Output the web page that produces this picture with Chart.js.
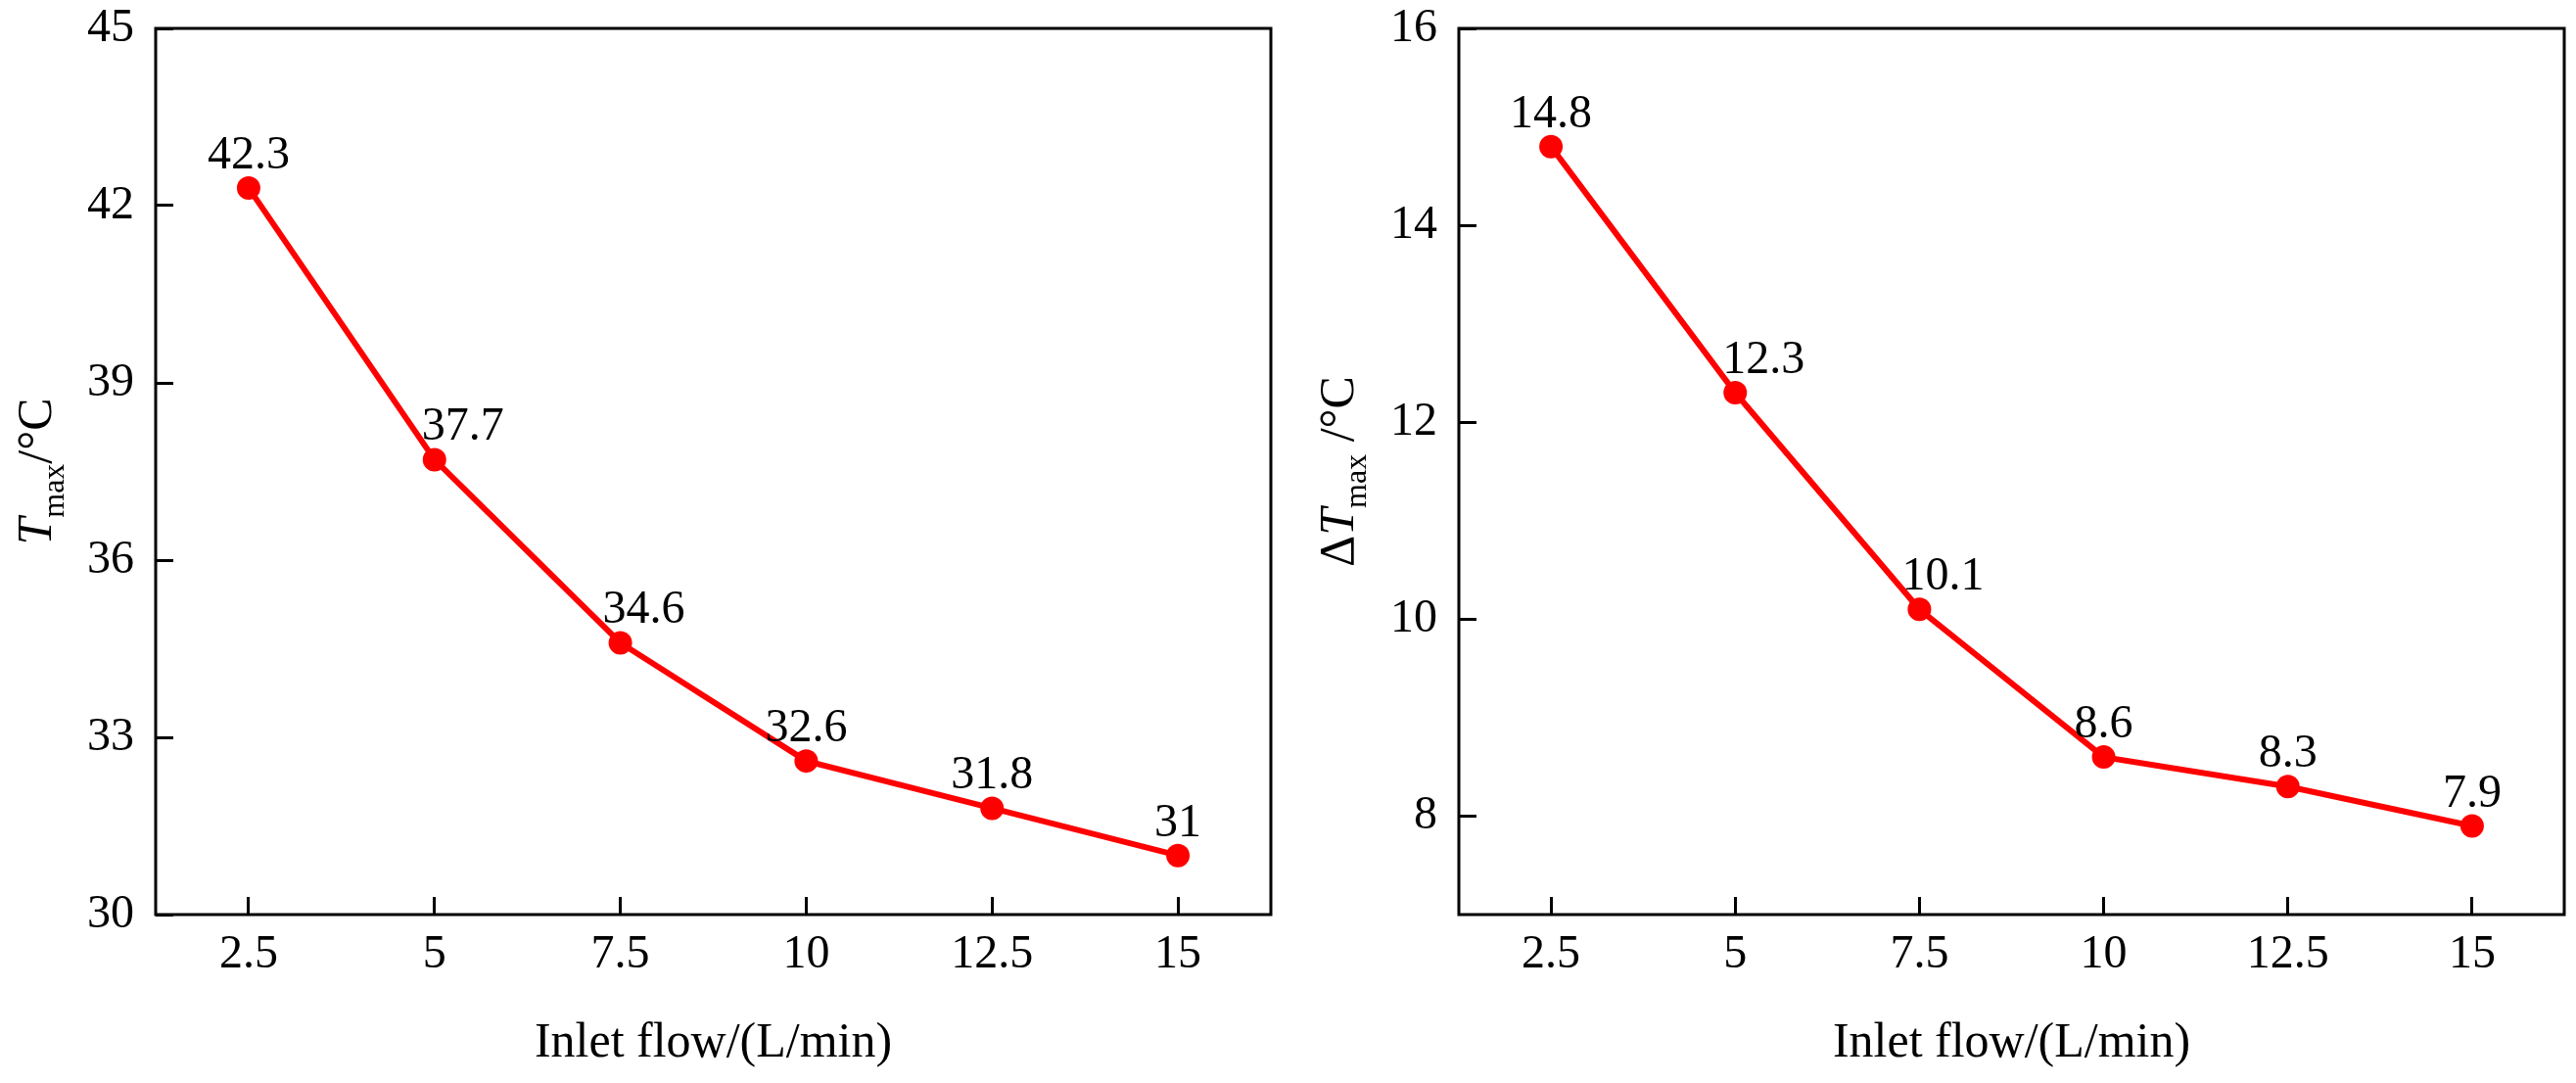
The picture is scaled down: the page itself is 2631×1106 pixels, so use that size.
<!DOCTYPE html>
<html>
<head>
<meta charset="utf-8">
<script src="https://cdn.jsdelivr.net/npm/chart.js@4.4.1/dist/chart.umd.min.js"></script>
<style>
  html, body { margin: 0; padding: 0; background: #fff; }
  #wrap { position: relative; width: 2631px; height: 1106px; }
  canvas { position: absolute; top: 0; }
  #left { left: 0; }
  #right { left: 1315px; }
</style>
</head>
<body>
<div id="wrap">
  <canvas id="left" width="1315" height="1106"></canvas>
  <canvas id="right" width="1316" height="1106"></canvas>
</div>
<script>
// valori
const flow = [2.5, 5, 7.5, 10, 12.5, 15];
const tMax = [42.3, 37.7, 34.6, 32.6, 31.8, 31];
const dtMax = [14.8, 12.3, 10.1, 8.6, 8.3, 7.9];

const xTicks = [2.5, 5, 7.5, 10, 12.5, 15];
const yTicksLeft = [30, 33, 36, 39, 42, 45];
const yTicksRight = [8, 10, 12, 14, 16];
const xTitle = "Inlet flow/(L/min)";

const FONT = "'Liberation Serif', 'Times New Roman', serif";
Chart.defaults.font.family = FONT;
Chart.defaults.color = "#000";

// cornice nera attorno all'area del grafico
const framePlugin = {
  id: "frame",
  afterDraw(chart) {
    const a = chart.chartArea, ctx = chart.ctx;
    ctx.save();
    ctx.strokeStyle = "#000";
    ctx.lineWidth = 3;
    ctx.strokeRect(a.left, a.top, a.right - a.left, a.bottom - a.top);
    ctx.restore();
  }
};

// etichette dei valori sopra i punti (spostate a destra dove la linea è ripida)
const valueLabels = {
  id: "valueLabels",
  afterDatasetsDraw(chart, args, opts) {
    const ctx = chart.ctx;
    const ds = chart.data.datasets[0];
    const dx = opts.dx || [];
    ctx.save();
    ctx.font = "48px " + FONT;
    ctx.fillStyle = "#000";
    ctx.textAlign = "center";
    ctx.textBaseline = "alphabetic";
    chart.getDatasetMeta(0).data.forEach((pt, i) => {
      ctx.fillText(String(ds.data[i].y), pt.x + (dx[i] || 0), pt.y - 20);
    });
    ctx.restore();
  }
};

// titolo asse y con corsivo e pedice
const yTitle = {
  id: "yTitle",
  afterDraw(chart, args, opts) {
    const ctx = chart.ctx;
    const a = chart.chartArea;
    ctx.save();
    ctx.translate(opts.x, (a.top + a.bottom) / 2);
    ctx.rotate(-Math.PI / 2);
    ctx.fillStyle = "#000";
    ctx.textBaseline = "alphabetic";
    const fontOf = p => (p.italic ? "italic " : "") + (p.sub ? 32 : 50) + "px " + FONT;
    let total = 0;
    opts.parts.forEach(p => { ctx.font = fontOf(p); total += ctx.measureText(p.text).width; });
    let x = -total / 2;
    opts.parts.forEach(p => {
      ctx.font = fontOf(p);
      ctx.fillText(p.text, x, p.sub ? 13 : 0);
      x += ctx.measureText(p.text).width;
    });
    ctx.restore();
  }
};

function makeChart(id, values, yTicks, yMin, yMax, axisWidth, padRight, parts, titleX) {
  return new Chart(document.getElementById(id), {
    type: "line",
    data: {
      datasets: [{
        data: flow.map((f, i) => ({ x: f, y: values[i] })),
        borderColor: "#ff0000",
        backgroundColor: "#ff0000",
        borderWidth: 6,
        pointRadius: 12,
        pointBorderWidth: 0,
        pointBackgroundColor: "#ff0000",
        tension: 0
      }]
    },
    options: {
      responsive: false,
      animation: false,
      layout: { padding: { left: 0, top: 29, right: padRight, bottom: 0 } },
      plugins: {
        legend: { display: false },
        tooltip: { enabled: false },
        valueLabels: { dx: [0, 29, 24, 0, 0, 0] },
        yTitle: { parts: parts, x: titleX }
      },
      scales: {
        x: {
          type: "linear",
          min: 1.25,
          max: 16.25,
          afterBuildTicks: s => { s.ticks = xTicks.map(v => ({ value: v })); },
          afterFit: s => { s.height = 172; s.paddingLeft = 0; s.paddingRight = 0; },
          border: { display: false },
          grid: { drawOnChartArea: false, drawTicks: true, tickLength: -18, lineWidth: 3, color: "#000" },
          ticks: { font: { size: 48 }, padding: 31, maxRotation: 0, color: "#000" },
          title: { display: true, text: xTitle, font: { size: 50 }, color: "#000", padding: { top: 0, bottom: 10 } }
        },
        y: {
          min: yMin,
          max: yMax,
          afterBuildTicks: s => { s.ticks = yTicks.map(v => ({ value: v })); },
          afterFit: s => { s.width = axisWidth; s.paddingTop = 0; s.paddingBottom = 0; },
          border: { display: false },
          grid: { drawOnChartArea: false, drawTicks: true, tickLength: -18, lineWidth: 3, color: "#000" },
          ticks: { font: { size: 48 }, padding: 40, color: "#000" }
        }
      }
    },
    plugins: [framePlugin, valueLabels, yTitle]
  });
}

makeChart("left", tMax, yTicksLeft, 30, 45, 159, 17,
  [{ text: "T", italic: true }, { text: "max", sub: true }, { text: "/°C" }], 52);
makeChart("right", dtMax, yTicksRight, 7, 16, 175, 2,
  [{ text: "Δ" }, { text: "T", italic: true }, { text: "max", sub: true }, { text: " /°C" }], 67);
</script>
</body>
</html>
